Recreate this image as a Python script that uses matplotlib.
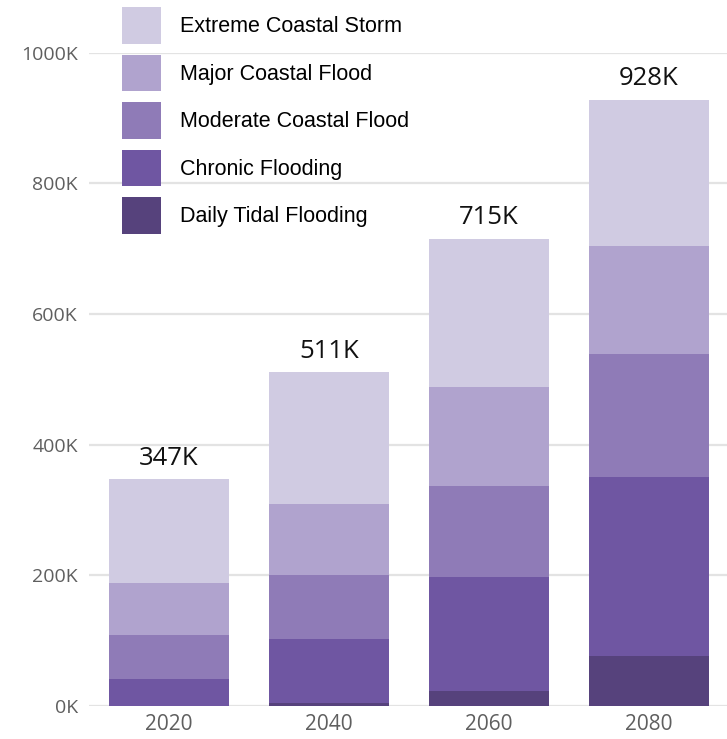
import matplotlib
matplotlib.use("Agg")
import matplotlib.pyplot as plt
import numpy as np

years = ["2020", "2040", "2060", "2080"]
# thousands of people, stacked from the bottom up
daily_tidal = [0, 5, 23, 77]
chronic = [42, 97, 174, 274]
moderate = [67, 99, 139, 187]
major = [79, 108, 152, 166]
extreme = [159, 202, 227, 224]
series_names = ["Daily Tidal Flooding", "Chronic Flooding", "Moderate Coastal Flood",
                "Major Coastal Flood", "Extreme Coastal Storm"]
series_colors = ["#56427c", "#6f56a2", "#8f7bb7", "#b0a3ce", "#d0cbe2"]
yticks = [0, 200, 400, 600, 800, 1000]

W, H = 727, 739
fig = plt.figure(figsize=(W / 100, H / 100), dpi=100)
ax = fig.add_axes([89 / W, (H - 706) / H, (W - 89) / W, (706 - 52.5) / H])

x = np.arange(len(years))
bottom = np.zeros(len(years))
handles = []
for name, vals, col in zip(series_names, [daily_tidal, chronic, moderate, major, extreme], series_colors):
    b = ax.bar(x, vals, width=0.75, bottom=bottom, color=col, label=name, zorder=3, linewidth=0)
    handles.append(b)
    bottom = bottom + np.array(vals)

for xi, tot in zip(x, bottom):
    ax.text(xi, tot + 13, f"{int(round(tot))}K", ha="center", va="bottom",
            fontsize=18.5, family=["Open Sans", "DejaVu Sans"], color="#111111", clip_on=False)

ax.set_xlim(-0.5, 3.49)
ax.set_ylim(0, 1000)
ax.set_yticks(yticks)
ax.set_yticklabels([f"{v}K" for v in yticks])
ax.set_xticks(x)
ax.set_xticklabels(years)
ax.tick_params(axis="y", length=0, pad=8, labelsize=14, labelcolor="#5f5f5f")
ax.tick_params(axis="x", length=0, pad=6, labelsize=15, labelcolor="#5f5f5f")
for lab in ax.get_xticklabels() + ax.get_yticklabels():
    lab.set_family(["Open Sans", "DejaVu Sans"])
ax.grid(axis="y", color="#e3e3e3", linewidth=1.6, zorder=0)
for s in ax.spines.values():
    s.set_visible(False)

leg = fig.legend(handles[::-1], series_names[::-1], loc="upper left",
                 bbox_to_anchor=(122 / W, 1 - 7 / H), bbox_transform=fig.transFigure,
                 frameon=False, borderpad=0, borderaxespad=0,
                 prop={"family": ["Liberation Sans", "DejaVu Sans"], "size": 15.5},
                 handlelength=1.83, handleheight=2.25, labelspacing=0.5, handletextpad=0.85)

fig.savefig("out.png", dpi=100)
